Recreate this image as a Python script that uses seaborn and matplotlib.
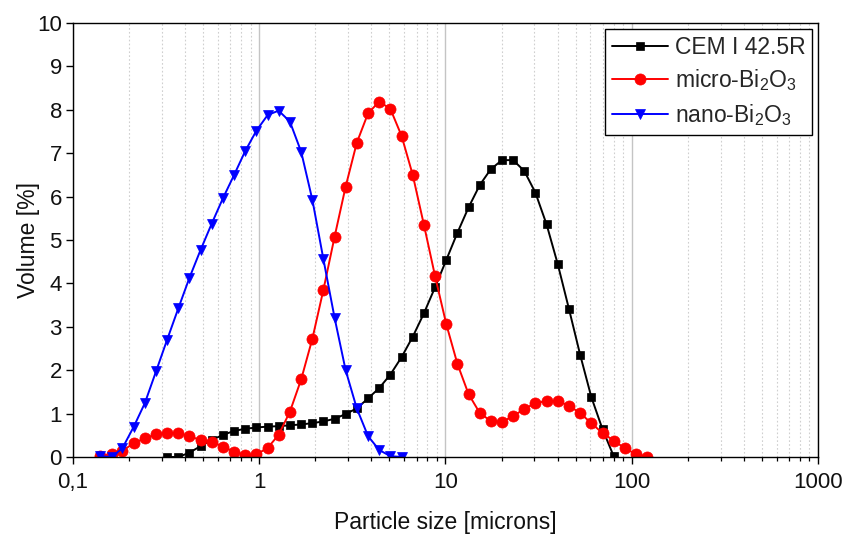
"""
Particle size distribution: CEM I 42.5R, micro-Bi2O3 and nano-Bi2O3.
Laser diffraction, volume [%] vs particle size (log scale).
"""

import numpy as np
import pandas as pd
import matplotlib
matplotlib.use("Agg")
import matplotlib.pyplot as plt
import matplotlib.ticker as mticker
import seaborn as sns

# --- DATA ---
# common size classes [microns]
SIZE = [0.140, 0.161, 0.184, 0.212, 0.243, 0.279, 0.320, 0.368, 0.422, 0.484,
        0.556, 0.638, 0.733, 0.841, 0.966, 1.11, 1.27, 1.46, 1.68, 1.93,
        2.21, 2.54, 2.91, 3.34, 3.84, 4.41, 5.06, 5.81, 6.67, 7.66,
        8.79, 10.1, 11.6, 13.3, 15.3, 17.5, 20.1, 23.1, 26.5, 30.4,
        34.9, 40.1, 46.1, 52.9, 60.7, 69.7, 80.0, 91.8, 105, 121]

# CEM I 42.5R, size classes 0.320 .. 80.0
cem_size = SIZE[6:47]
cem_vol = [0.00, 0.00, 0.10, 0.25, 0.39, 0.51, 0.60, 0.65, 0.68, 0.70,
           0.71, 0.73, 0.75, 0.78, 0.82, 0.88, 0.99, 1.12, 1.35, 1.59,
           1.90, 2.30, 2.77, 3.31, 3.91, 4.54, 5.17, 5.75, 6.27, 6.63,
           6.84, 6.84, 6.59, 6.09, 5.36, 4.44, 3.40, 2.35, 1.38, 0.64,
           0.02]

# micro-Bi2O3, size classes 0.140 .. 121
micro_size = SIZE[0:50]
micro_vol = [0.02, 0.07, 0.14, 0.32, 0.43, 0.52, 0.56, 0.55, 0.48, 0.39,
             0.35, 0.24, 0.12, 0.05, 0.06, 0.21, 0.51, 1.04, 1.79, 2.73,
             3.85, 5.08, 6.23, 7.24, 7.92, 8.19, 8.02, 7.40, 6.50, 5.35,
             4.17, 3.06, 2.14, 1.45, 1.01, 0.83, 0.81, 0.94, 1.11, 1.24,
             1.29, 1.29, 1.18, 1.01, 0.78, 0.55, 0.38, 0.20, 0.07, 0.01]

# nano-Bi2O3, size classes 0.140 .. 5.81
nano_size = SIZE[0:28]
nano_vol = [0.02, 0.00, 0.20, 0.70, 1.24, 1.97, 2.70, 3.43, 4.13, 4.77,
            5.38, 5.96, 6.50, 7.05, 7.52, 7.88, 7.98, 7.73, 7.03, 5.92,
            4.56, 3.20, 2.00, 1.12, 0.48, 0.16, 0.02, 0.00]

XTICKS = [0.1, 1, 10, 100, 1000]
XTICK_LABELS = ["0,1", "1", "10", "100", "1000"]
YTICKS = list(range(0, 11))

SERIES = [
    ("CEM I 42.5R", cem_size, cem_vol, "black", "s", 6.2),
    ("micro-Bi$_\\mathregular{2}$O$_\\mathregular{3}$", micro_size, micro_vol, "#ff0000", "o", 8.0),
    ("nano-Bi$_\\mathregular{2}$O$_\\mathregular{3}$", nano_size, nano_vol, "#0000ff", "v", 7.6),
]


def main():
    sns.set_theme(style="white")
    plt.rcParams["font.family"] = ["Liberation Sans", "DejaVu Sans"]
    plt.rcParams["mathtext.fontset"] = "custom"
    plt.rcParams["mathtext.rm"] = "Liberation Sans"

    fig = plt.figure(figsize=(8.47, 5.36), dpi=100)
    ax = fig.add_axes([0.0862, 0.1474, 0.8795, 0.8097])

    for label, xs, ys, color, marker, ms in SERIES:
        df = pd.DataFrame({"size": xs, "vol": ys})
        sns.lineplot(data=df, x="size", y="vol", color=color, marker=marker,
                     markersize=ms, markeredgecolor=color, markeredgewidth=0.5,
                     linewidth=1.4, label=label, ax=ax)

    ax.set_xscale("log")
    ax.set_xlim(0.1, 1000)
    ax.set_ylim(0, 10)

    ax.xaxis.set_major_locator(mticker.FixedLocator(XTICKS))
    ax.xaxis.set_major_formatter(mticker.FixedFormatter(XTICK_LABELS))
    ax.xaxis.set_minor_locator(mticker.LogLocator(base=10, subs=np.arange(2, 10), numticks=20))
    ax.xaxis.set_minor_formatter(mticker.NullFormatter())
    ax.set_yticks(YTICKS)

    ax.grid(False)
    ax.grid(which="major", axis="x", color="#c4c4c4", linewidth=1.0, linestyle="-")
    ax.grid(which="minor", axis="x", color="#cfcfcf", linewidth=0.8, linestyle=(0, (1.5, 2)))
    ax.set_axisbelow(True)

    for s in ax.spines.values():
        s.set_color("black")
        s.set_linewidth(1.0)

    ax.tick_params(axis="both", which="major", direction="out", length=5, width=1.0,
                   color="black", labelsize=16, labelcolor="#111111",
                   bottom=True, left=True, top=False, right=False, pad=3)
    ax.tick_params(axis="x", which="minor", direction="out", length=3, width=0.9,
                   color="black", bottom=True, top=False)
    ax.tick_params(axis="x", which="major", pad=6)

    ax.set_xlabel("Particle size [microns]", fontsize=16.5, labelpad=13, color="#111111")
    ax.set_ylabel("Volume [%]", fontsize=16.5, labelpad=-2, color="#111111")

    leg = ax.legend(loc="upper right", fontsize=16.5, frameon=True, fancybox=False,
                    edgecolor="black", framealpha=1, borderaxespad=0.25,
                    handlelength=2.45, handletextpad=0.3, labelspacing=0.38,
                    borderpad=0.3)
    leg.get_frame().set_linewidth(1.0)

    fig.savefig("out.png", dpi=100)


if __name__ == "__main__":
    main()
